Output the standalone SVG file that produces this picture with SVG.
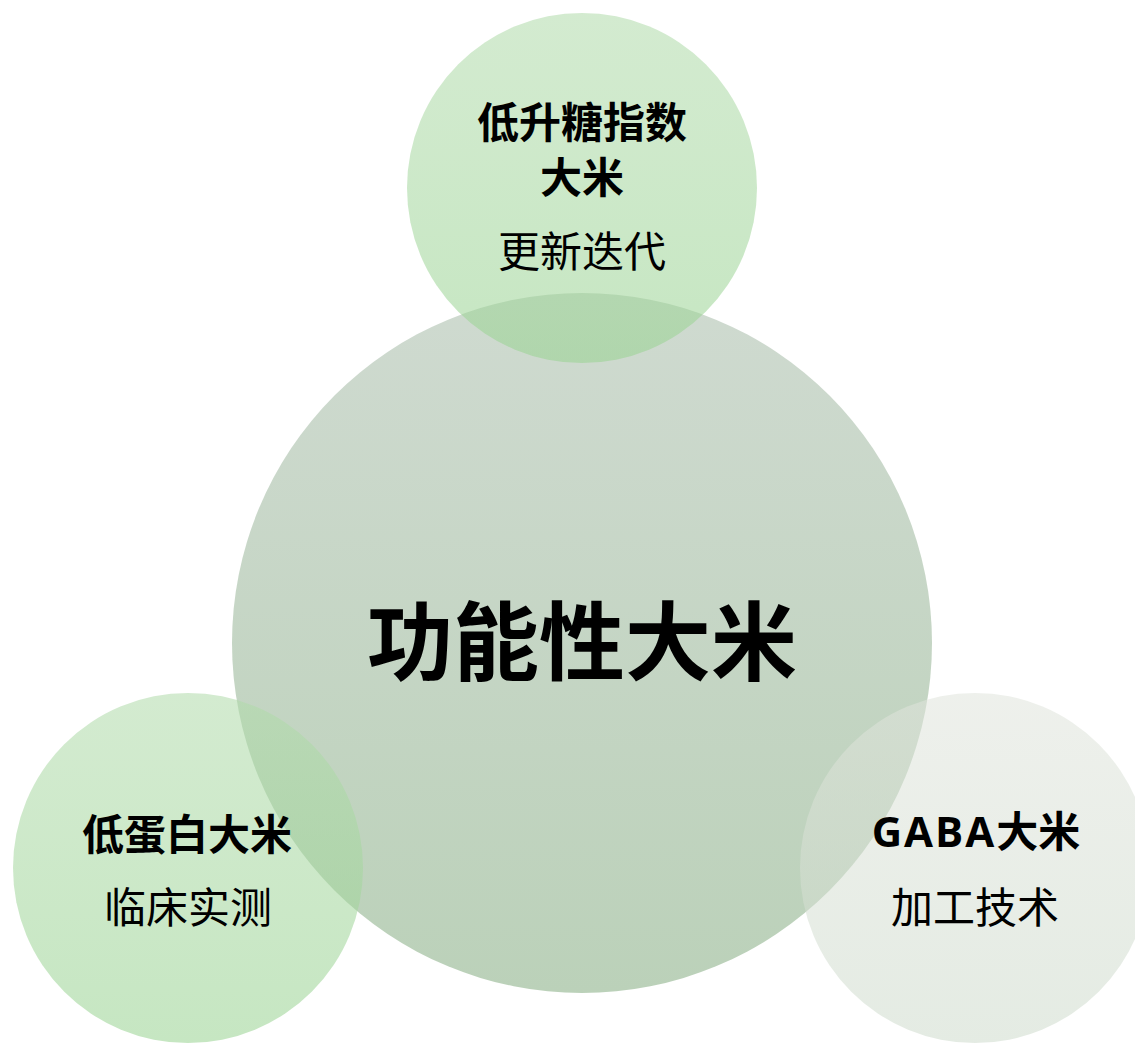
<svg xmlns="http://www.w3.org/2000/svg" width="1135" height="1044" viewBox="0 0 1135 1044">
<defs>
<linearGradient id="gBig" x1="0" y1="0" x2="0" y2="1">
<stop offset="0" stop-color="#cfdad0"/>
<stop offset="1" stop-color="#bbd1b9"/>
</linearGradient>
<linearGradient id="gGreen" x1="0" y1="0" x2="0" y2="1">
<stop offset="0" stop-color="#b1dbab"/>
<stop offset="1" stop-color="#99d392"/>
</linearGradient>
<linearGradient id="gGrey" x1="0" y1="0" x2="0" y2="1">
<stop offset="0" stop-color="#e0e4dc"/>
<stop offset="1" stop-color="#cedbcc"/>
</linearGradient>
<style>
text{font-family:"Noto Sans CJK SC","Microsoft YaHei",sans-serif;fill:#000;text-anchor:middle}
.t{font-weight:bold;font-size:42px}
.s{font-size:42px}
.c{font-weight:bold;font-size:86px}
.lat{font-family:"Open Sans","Noto Sans",sans-serif;letter-spacing:2px}
</style>
</defs>
<g id="node-center">
<circle cx="582" cy="643" r="350" fill="url(#gBig)"/>
<text class="c" x="582" y="674">功能性大米</text>
</g>
<g id="node-top">
<circle cx="582" cy="188" r="175" fill="url(#gGreen)" fill-opacity="0.56"/>
<text class="t" x="582" y="138">低升糖指数</text>
<text class="t" x="582" y="193">大米</text>
<text class="s" x="582" y="267">更新迭代</text>
</g>
<g id="node-left">
<circle cx="188" cy="868" r="175" fill="url(#gGreen)" fill-opacity="0.56"/>
<text class="t" x="187" y="850">低蛋白大米</text>
<text class="s" x="188" y="923">临床实测</text>
</g>
<g id="node-right">
<circle cx="975" cy="868" r="175" fill="url(#gGrey)" fill-opacity="0.55"/>
<text class="t" x="976" y="847"><tspan class="lat">GABA</tspan>大米</text>
<text class="s" x="975" y="923">加工技术</text>
</g>
<g id="connectors"/>
</svg>
